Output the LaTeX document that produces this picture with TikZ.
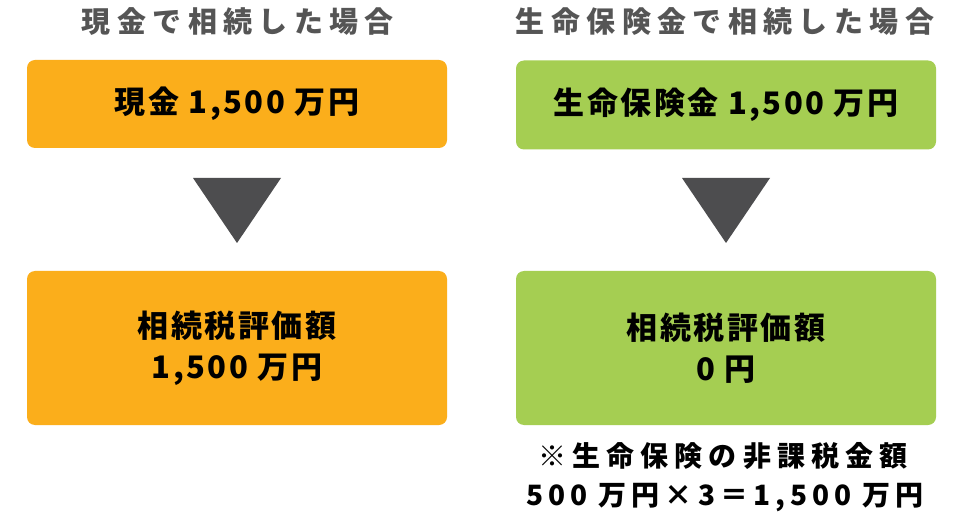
\documentclass[tikz,border=0pt]{standalone}
\usepackage{fontspec}
\newfontfamily\jp{Noto Sans CJK JP}
\newfontfamily\jpsp[LetterSpace=22]{Noto Sans CJK JP}
\newfontfamily\jpnt[LetterSpace=18]{Noto Sans CJK JP}
\newfontfamily\jpbx[LetterSpace=8]{Noto Sans CJK JP}
\definecolor{orangebox}{HTML}{FBAE1B}
\definecolor{greenbox}{HTML}{A5CE52}
\definecolor{tri}{HTML}{4D4D4F}
\definecolor{titlegray}{HTML}{555555}
\begin{document}
\begin{tikzpicture}[x=1pt,y=-1pt,
  box/.style={rounded corners=8pt, minimum width=420pt, inner sep=0pt, align=center,
    font=\jpbx\bfseries\fontsize{31}{41}\selectfont, text=black},
  title/.style={font=\jpsp\bfseries\fontsize{29}{34}\selectfont, text=titlegray, inner sep=0pt},
  note/.style={font=\jpsp\bfseries\fontsize{28}{34}\selectfont, text=black, inner sep=0pt},
  arrowtri/.style={fill=tri, draw=none}]
\useasboundingbox (0,0) rectangle (969,521);
\fill[white] (0,0) rectangle (969,521);
% titles
\node[title] (t1) at (238,22) {現金で相続した場合};
\node[title] (t2) at (725,22) {生命保険金で相続した場合};
% top boxes
\node[box, fill=orangebox, minimum height=88pt] (a1) at (237,104) {現金 1,500 万円};
\node[box, fill=greenbox, minimum height=89pt] (b1) at (726,105) {生命保険金 1,500 万円};
% bottom boxes
\node[box, fill=orangebox, minimum height=154pt] (a2) at (237,348) {相続税評価額\\1,500 万円};
\node[box, fill=greenbox, minimum height=154pt] (b2) at (726,348) {相続税評価額\\0 円};
% triangles
\coordinate (ta) at (237,178);
\coordinate (tb) at (726,178);
\fill[arrowtri] ([xshift=-44pt]ta) -- ([xshift=44pt]ta) -- ([yshift=-65pt]ta) -- cycle;
\fill[arrowtri] ([xshift=-44pt]tb) -- ([xshift=44pt]tb) -- ([yshift=-65pt]tb) -- cycle;
% notes
\node[note] (n1) at (723,456) {※生命保険の非課税金額};
\node[note, font=\jpnt\bfseries\fontsize{28}{34}\selectfont] (n2) at (725,498) {500 万円×3＝1,500 万円};
\end{tikzpicture}
\end{document}
